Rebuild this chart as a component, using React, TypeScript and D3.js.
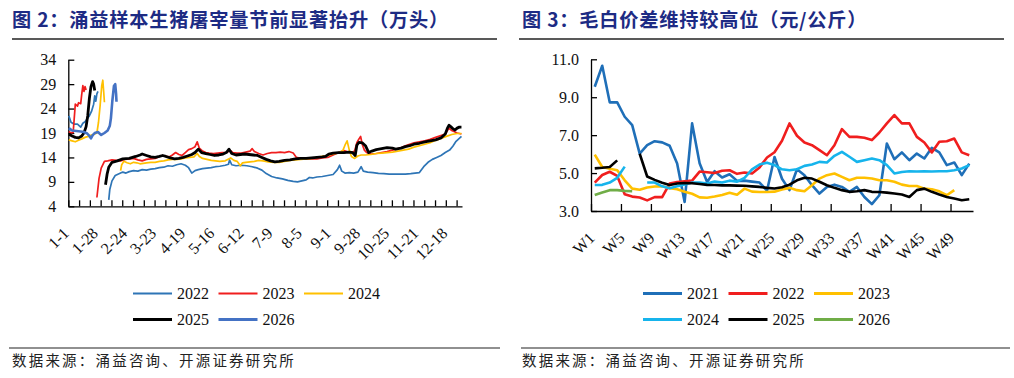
import React, { useEffect, useRef } from "react";
import * as d3 from "d3";

type Pt = [number, number | null];

// ---------- Left chart: daily slaughter (万头), x = day of year (0 = 1-1) ----------
const leftYears = ["2022", "2023", "2024", "2025", "2026"];
const leftTickLabels = ["1-1", "1-28", "2-24", "3-23", "4-19", "5-16", "6-12", "7-9", "8-5", "9-1", "9-28", "10-25", "11-21", "12-18"];
const leftYTicks = [4, 9, 14, 19, 24, 29, 34];

const s2022: Pt[] = [[0,22.5],[2,21.2],[5,20.8],[8,20.8],[11,20.2],[13,21.0],[15,21.3],[17,21.9],[19,22.5],[21,23.4],[23,24.9],[24,26.6],[25,25.5],[26,27.0],[27,27.5],[30,null],
[37,5.3],[38,7.5],[40,9.2],[43,10.3],[46,10.6],[50,11.0],[53,10.8],[56,11.1],[60,11.3],[64,11.2],[68,11.5],[72,11.4],[76,11.6],[80,11.7],[84,11.9],[88,12.0],[92,12.3],[96,12.2],[100,12.5],[104,12.7],[108,12.4],[111,11.9],[114,10.8],[117,11.3],[120,11.5],[124,11.7],[128,11.8],[132,11.9],[136,12.1],[140,12.2],[145,12.4],[148,12.6],[149,13.5],[151,12.5],[155,12.3],[160,12.4],[165,12.3],[170,12.1],[175,11.8],[179,11.4],[183,10.7],[188,10.1],[193,9.8],[198,9.6],[203,9.3],[208,9.1],[212,9.0],[216,9.2],[220,9.4],[223,9.9],[226,9.8],[230,10.0],[235,10.1],[240,10.3],[245,10.5],[249,11.5],[251,12.4],[253,11.2],[256,10.8],[260,10.9],[264,10.8],[268,11.0],[271,12.1],[273,11.2],[277,11.0],[282,10.9],[287,10.75],[292,10.7],[297,10.6],[302,10.6],[307,10.6],[312,10.6],[317,10.7],[321,10.8],[325,10.9],[329,12.1],[333,13.0],[337,13.6],[341,14.0],[345,14.4],[349,15.0],[353,15.5],[356,16.3],[359,17.3],[362,17.9],[364,18.3]];

const s2023: Pt[] = [[0,19.3],[2,19.0],[4,19.1],[5,22.0],[6,24.9],[8,24.5],[9,25.2],[11,25.0],[12,27.0],[13,28.7],[14,27.5],[15,28.5],[16,27.8],[20,null],
[26,5.8],[28,9.7],[30,11.8],[33,13.2],[36,13.3],[40,13.5],[44,13.4],[48,13.3],[52,13.6],[56,13.7],[60,13.8],[64,13.5],[68,13.3],[72,13.6],[76,13.7],[80,13.8],[84,14.2],[87,14.4],[90,14.2],[93,14.1],[96,14.5],[99,15.0],[102,14.6],[105,14.4],[108,15.0],[111,15.6],[114,15.8],[117,16.2],[119,17.2],[121,15.9],[124,15.3],[127,15.0],[130,14.9],[134,14.8],[138,14.9],[142,15.0],[146,15.0],[150,15.4],[152,15.0],[156,14.9],[160,14.9],[164,15.1],[168,15.3],[170,15.8],[172,15.2],[176,14.8],[180,14.5],[184,14.8],[188,15.0],[192,15.0],[196,15.1],[200,15.0],[204,15.2],[208,14.9],[211,14.0],[215,13.8],[220,13.7],[225,13.7],[230,13.7],[235,13.9],[240,14.0],[245,14.5],[250,15.0],[255,15.4],[258,15.2],[262,15.0],[265,15.3],[267,17.0],[269,17.8],[270.5,18.3],[272,16.7],[274,15.5],[276,15.0],[280,14.7],[285,14.8],[290,15.0],[295,15.2],[300,15.5],[304,15.7],[308,16.0],[312,16.4],[316,16.7],[320,17.0],[325,17.2],[330,17.4],[335,17.7],[340,18.1],[345,18.5],[349,18.8],[351,19.5],[352.5,20.0],[355,19.5],[357,19.3],[360,19.0],[364,18.8]];

const s2024: Pt[] = [[0,17.6],[3,17.4],[6,17.2],[9,17.5],[12,17.8],[15,18.1],[18,18.3],[21,18.6],[24,18.8],[26,19.0],[27.5,21.2],[29,24.6],[30.5,28.7],[31.5,29.8],[32.3,27.5],[33,25.3],[40,null],
[48,11.3],[49,12.5],[51,13.2],[54,12.9],[57,12.7],[60,13.0],[63,12.9],[66,12.7],[69,12.8],[72,12.9],[76,13.0],[80,13.0],[84,13.2],[88,13.3],[92,13.5],[96,13.6],[100,13.6],[104,13.7],[108,13.9],[112,14.0],[116,14.1],[119,14.8],[121,14.2],[124,13.8],[128,13.6],[132,13.4],[136,13.3],[140,13.2],[145,13.3],[150,13.9],[153,13.4],[156,13.2],[159,12.3],[161,12.9],[164,13.0],[168,13.1],[172,13.2],[176,13.4],[180,13.3],[185,13.1],[190,13.0],[195,13.0],[200,13.2],[205,13.4],[210,13.5],[215,13.6],[220,13.7],[225,13.8],[230,14.0],[235,14.2],[240,14.4],[245,14.7],[250,14.9],[254,15.4],[256,16.5],[258,17.4],[260,15.5],[262,14.2],[265,13.8],[268,14.3],[271,14.5],[275,14.5],[280,14.6],[285,14.8],[290,14.9],[295,15.0],[300,15.1],[305,15.3],[310,15.5],[315,15.7],[320,16.1],[325,16.4],[330,16.7],[335,17.0],[340,17.5],[345,17.9],[350,18.3],[355,18.7],[360,18.9],[364,18.9]];

const s2025: Pt[] = [[0,18.8],[3,18.4],[6,18.1],[9,18.0],[12,18.4],[14,19.0],[16,20.3],[17.5,22.5],[19,26.0],[20.5,28.5],[22,29.5],[23,29.0],[24,27.7],[29,null],
[34,8.4],[35.5,10.6],[37,12.0],[40,13.0],[45,13.3],[50,13.7],[56,13.8],[62,14.2],[66,14.5],[68,14.7],[72,14.4],[76,14.1],[80,14.0],[84,14.2],[87,14.4],[90,14.2],[94,13.9],[98,13.7],[102,13.8],[106,14.0],[110,14.3],[114,14.6],[117,15.0],[120,15.7],[123,15.0],[127,14.8],[131,14.6],[135,14.4],[139,14.5],[143,14.7],[146,15.0],[148.5,15.7],[151,14.8],[155,14.5],[159,14.6],[163,14.7],[167,14.6],[171,14.5],[175,14.4],[179,14.0],[183,13.6],[187,13.3],[191,13.1],[195,13.2],[200,13.4],[205,13.5],[210,13.7],[215,13.8],[220,13.8],[225,13.9],[230,14.0],[235,14.1],[238,14.2],[241,14.7],[245,14.9],[250,15.0],[255,15.0],[260,15.1],[263,15.0],[265.5,14.4],[267,16.5],[269,17.1],[272,17.0],[275,16.4],[278,15.0],[281,15.3],[285,15.6],[290,15.8],[295,16.0],[300,15.9],[303,15.7],[308,15.9],[312,16.2],[316,16.4],[320,16.7],[325,16.9],[330,17.2],[335,17.4],[340,17.6],[345,18.0],[349,18.8],[351,20.0],[352.5,20.6],[354,20.3],[356,19.9],[358,19.6],[360,20.0],[362,20.2],[364,20.2]];

const s2026: Pt[] = [[0,20.0],[3,19.5],[7,19.4],[11,19.3],[14,19.2],[17,18.9],[19,18.4],[20.5,17.9],[22,18.5],[24,19.0],[27,19.2],[30,18.6],[33,19.0],[36,19.5],[38,20.5],[39,22.0],[40.3,25.5],[41.8,28.6],[43,29.0],[43.8,27.0],[44.2,25.4]];

// ---------- Right chart: weekly price spread (元/公斤), W1..W51 ----------
const rightYears = ["2021", "2022", "2023", "2024", "2025", "2026"];
const weeks = d3.range(1, 52).map((w) => "W" + w);
const rightYTicks = [3, 5, 7, 9, 11];

const w2021 = [9.55,10.66,8.73,8.73,7.97,7.53,6.03,6.47,6.68,6.62,6.44,5.51,3.48,7.62,5.52,4.53,5.1,4.77,4.94,4.59,4.6,4.55,4.5,4.07,5.85,4.7,4.1,5.2,4.89,4.36,3.92,4.27,4.39,4.27,4.01,4.27,3.74,3.36,3.83,6.56,5.73,6.09,5.68,6.03,5.77,6.33,6.09,5.42,5.56,4.89,5.5];
const w2022 = [4.5,4.9,5.07,4.85,3.88,3.76,3.71,3.56,3.73,3.73,4.45,4.53,4.57,4.6,5.08,5.04,5.0,5.12,5.15,4.96,5.03,4.98,5.3,5.82,6.1,6.7,7.62,6.97,6.61,6.47,6.21,5.94,6.47,7.32,6.91,6.91,6.86,6.74,7.14,7.62,8.06,7.62,7.62,6.91,6.61,6.09,6.65,6.68,6.82,6.09,5.94];
const w2023 = [5.97,5.32,5.23,5.15,4.62,4.18,4.12,4.24,4.29,4.3,4.2,4.15,4.02,3.91,3.72,3.7,3.76,3.84,3.96,3.86,4.18,4.02,4.0,4.0,4.02,4.14,4.22,4.1,4.04,4.36,4.71,4.89,4.98,4.8,4.62,4.75,4.75,4.71,4.62,4.62,4.54,4.39,4.32,4.32,4.18,4.15,4.04,3.83,4.1];
const w2024: (number | null)[] = [4.37,4.38,4.5,4.75,5.34,null,null,4.5,4.5,4.3,4.2,4.3,4.4,4.5,4.5,4.45,4.55,4.5,4.6,4.55,4.75,5.2,5.45,5.55,5.42,5.2,5.15,5.2,5.38,5.45,5.59,5.56,5.91,6.12,5.86,5.59,5.68,5.77,5.68,5.42,4.98,5.06,5.1,5.08,5.1,5.08,5.1,5.1,5.15,5.24,5.42];
const w2025: (number | null)[] = [5.25,5.28,5.32,5.67,null,null,6.02,4.82,4.64,4.49,4.37,4.45,4.48,4.46,4.42,4.38,4.37,4.35,4.35,4.34,4.33,4.3,4.27,4.22,4.19,4.25,4.39,4.62,4.75,4.71,4.54,4.36,4.22,4.1,4.01,4.04,4.1,4.01,4.0,3.97,3.92,3.87,3.74,4.1,4.18,4.01,3.87,3.74,3.66,3.57,3.62];
const w2026 = [3.84,3.98,4.1,4.1,4.06,4.04];

const SERIF = "'Liberation Serif', 'Times New Roman', serif";
const CJK = "'Noto Sans CJK SC', sans-serif";

function App() {
  const ref = useRef<SVGSVGElement>(null);

  useEffect(() => {
    const svg = d3.select(ref.current);
    svg.selectAll("*").remove();

    // ---------- headers & footers ----------
    const titles = [
      { x: 12, text: "图 2：涌益样本生猪屠宰量节前显著抬升（万头）", l0: 12, l1: 497 },
      { x: 522, text: "图 3：毛白价差维持较高位（元/公斤）", l0: 519, l1: 1004 },
    ];
    titles.forEach((t) => {
      svg.append("text").attr("x", t.x).attr("y", 19).attr("dominant-baseline", "central")
        .attr("font-family", CJK).attr("font-weight", 700).attr("font-size", 19.2)
        .attr("letter-spacing", 0.8).attr("fill", "#1D2B84").text(t.text);
      svg.append("line").attr("x1", t.l0).attr("x2", t.l1).attr("y1", 39).attr("y2", 39)
        .attr("stroke", "#222").attr("stroke-width", 1.4);
    });
    [{ x: 12, l0: 9, l1: 500 }, { x: 522, l0: 521, l1: 1010 }].forEach((s) => {
      svg.append("line").attr("x1", s.l0).attr("x2", s.l1).attr("y1", 348).attr("y2", 348)
        .attr("stroke", "#222").attr("stroke-width", 1.2);
      svg.append("text").attr("x", s.x).attr("y", 359).attr("dominant-baseline", "central")
        .attr("font-family", CJK).attr("font-size", 14.5).attr("letter-spacing", 2.2)
        .attr("fill", "#222").text("数据来源：涌益咨询、开源证券研究所");
    });

    // ---------- left chart ----------
    const xL = d3.scaleLinear().domain([0, 365]).range([68.3, 462]);
    const yL = d3.scaleLinear().domain([4, 34]).range([206.3, 59.7]);
    const gL = svg.append("g");

    const yAxL = gL.append("g").attr("transform", `translate(${xL(0)},0)`)
      .call(d3.axisLeft(yL).tickValues(leftYTicks).tickSize(-6).tickSizeOuter(0).tickPadding(12).tickFormat(d3.format("d")));
    const xAxL = gL.append("g").attr("transform", `translate(0,${yL(4)})`)
      .call(d3.axisBottom(xL).tickValues(d3.range(0, 361, 10)).tickSize(-6).tickSizeOuter(0).tickFormat(() => ""));
    [yAxL, xAxL].forEach((a) => {
      a.selectAll("path,line").attr("stroke", "#000").attr("stroke-width", 1.3);
      a.selectAll("text").attr("font-family", SERIF).attr("font-size", 16).attr("fill", "#111");
    });
    leftTickLabels.forEach((lbl, i) => {
      const d = i * 27;
      gL.append("text").attr("transform", `translate(${xL(d + 0.5) + 1},${yL(4) + 28}) rotate(-45)`)
        .attr("text-anchor", "end").attr("font-family", SERIF).attr("font-size", 16).attr("fill", "#111").text(lbl);
    });

    const leftSeries = [
      { name: leftYears[0], data: s2022, color: "#2E75B6", w: 1.7 },
      { name: leftYears[1], data: s2023, color: "#F01E1E", w: 1.7 },
      { name: leftYears[2], data: s2024, color: "#FFC000", w: 1.7 },
      { name: leftYears[3], data: s2025, color: "#000000", w: 2.8 },
      { name: leftYears[4], data: s2026, color: "#4472C4", w: 2.6 },
    ];
    const lineL = d3.line<Pt>().defined((d) => d[1] != null).x((d) => xL(d[0] + 0.5)).y((d) => yL(d[1] as number));
    leftSeries.forEach((s) => {
      gL.append("path").attr("d", lineL(s.data) as string).attr("fill", "none")
        .attr("stroke", s.color).attr("stroke-width", s.w).attr("stroke-linejoin", "round");
    });
    // legend
    const legL = [
      { s: leftSeries[0], x: 133, y: 293.5 }, { s: leftSeries[1], x: 218.5, y: 293.5 }, { s: leftSeries[2], x: 304, y: 293.5 },
      { s: leftSeries[3], x: 133, y: 319.5 }, { s: leftSeries[4], x: 218.5, y: 319.5 },
    ];
    legL.forEach((l) => {
      gL.append("line").attr("x1", l.x).attr("x2", l.x + 39).attr("y1", l.y).attr("y2", l.y)
        .attr("stroke", l.s.color).attr("stroke-width", l.s.w < 2 ? 2 : 3);
      gL.append("text").attr("x", l.x + 44).attr("y", l.y).attr("dominant-baseline", "central")
        .attr("font-family", SERIF).attr("font-size", 16).attr("fill", "#111").text(l.s.name);
    });

    // ---------- right chart ----------
    const xR = d3.scaleLinear().domain([0, 51]).range([591, 973]);
    const yR = d3.scaleLinear().domain([3, 11]).range([211, 59.3]);
    const gR = svg.append("g");
    const yAxR = gR.append("g").attr("transform", `translate(${xR(0)},0)`)
      .call(d3.axisLeft(yR).tickValues(rightYTicks).tickSize(-6).tickSizeOuter(0).tickPadding(12).tickFormat(d3.format(".1f")));
    const xAxR = gR.append("g").attr("transform", `translate(0,${yR(3)})`)
      .call(d3.axisBottom(xR).tickValues(d3.range(0, 49, 4)).tickSize(-7).tickSizeOuter(0).tickFormat(() => ""));
    [yAxR, xAxR].forEach((a) => {
      a.selectAll("path,line").attr("stroke", "#000").attr("stroke-width", 1.3);
      a.selectAll("text").attr("font-family", SERIF).attr("font-size", 16).attr("fill", "#111");
    });
    weeks.forEach((w, i) => {
      if (i % 4 !== 0) return;
      gR.append("text").attr("transform", `translate(${xR(i + 0.5) + 1},${yR(3) + 28}) rotate(-45)`)
        .attr("text-anchor", "end").attr("font-family", SERIF).attr("font-size", 16).attr("fill", "#111").text(w);
    });

    const rightSeries = [
      { name: rightYears[0], data: w2021, color: "#1F6FB8" },
      { name: rightYears[1], data: w2022, color: "#F01E1E" },
      { name: rightYears[2], data: w2023, color: "#FFC000" },
      { name: rightYears[3], data: w2024, color: "#16B4EC" },
      { name: rightYears[4], data: w2025, color: "#000000" },
      { name: rightYears[5], data: w2026, color: "#70AD47" },
    ];
    const lineR = d3.line<number | null>().defined((d) => d != null).x((_, i) => xR(i + 0.5)).y((d) => yR(d as number));
    rightSeries.forEach((s) => {
      gR.append("path").attr("d", lineR(s.data as (number | null)[]) as string).attr("fill", "none")
        .attr("stroke", s.color).attr("stroke-width", 2.6).attr("stroke-linejoin", "round");
    });
    const legR = [
      { x: 643, y: 293.5 }, { x: 728.5, y: 293.5 }, { x: 814, y: 293.5 },
      { x: 643, y: 319.5 }, { x: 728.5, y: 319.5 }, { x: 814, y: 319.5 },
    ];
    legR.forEach((l, i) => {
      const s = rightSeries[i];
      gR.append("line").attr("x1", l.x).attr("x2", l.x + 39).attr("y1", l.y).attr("y2", l.y)
        .attr("stroke", s.color).attr("stroke-width", 3);
      gR.append("text").attr("x", l.x + 44).attr("y", l.y).attr("dominant-baseline", "central")
        .attr("font-family", SERIF).attr("font-size", 16).attr("fill", "#111").text(s.name);
    });
  }, []);

  return (
    <svg ref={ref} width={1014} height={378}
      style={{ position: "absolute", left: 0, top: 0, background: "#fff" }} />
  );
}

export default App;
